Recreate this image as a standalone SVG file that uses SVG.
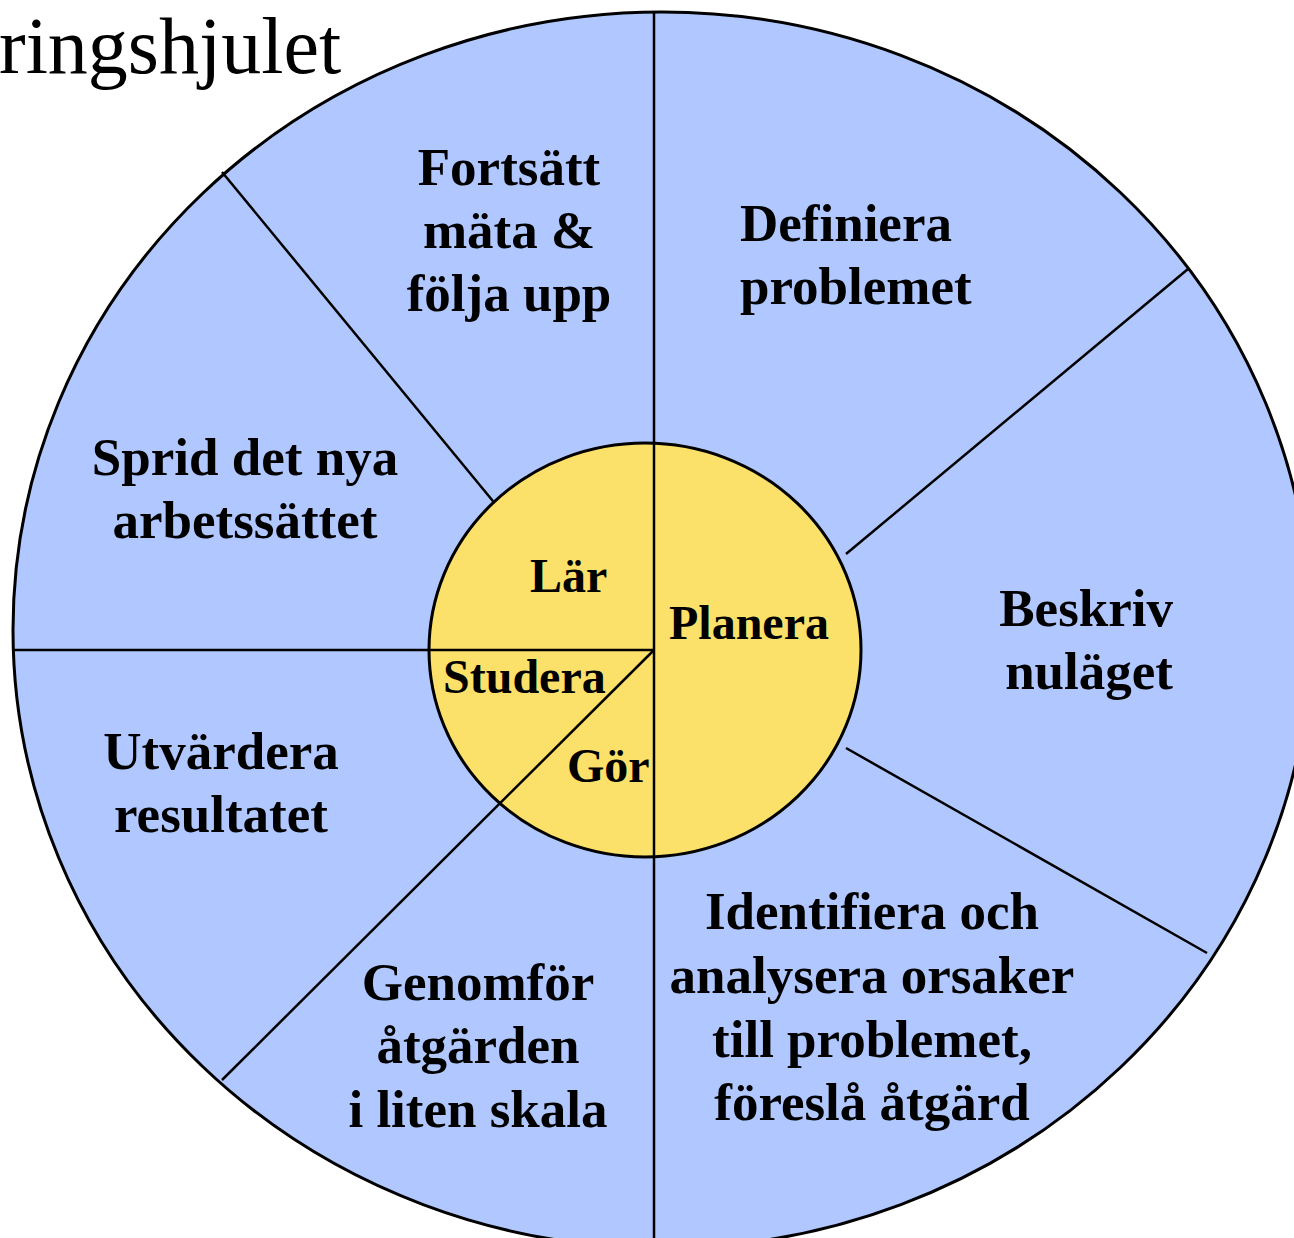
<svg xmlns="http://www.w3.org/2000/svg" width="1294" height="1238" viewBox="0 0 1294 1238">
<style>
.ln{stroke:#000;stroke-width:2.5;fill:none}
.lbl{font-family:"Liberation Serif","Times New Roman",serif;font-weight:bold;font-size:53px;fill:#000}
.in{font-family:"Liberation Serif","Times New Roman",serif;font-weight:bold;font-size:48px;fill:#000}
.c{text-anchor:middle}
</style>
<rect width="1294" height="1238" fill="#fff"/>
<text x="-1" y="73" font-family="Liberation Serif, Times New Roman, serif" font-size="80">ringshjulet</text>
<g id="wheel">
<ellipse cx="662" cy="630" rx="649" ry="618" fill="#B0C8FF" stroke="#000" stroke-width="3"/>
</g>
<g id="connectors">
<line class="ln" x1="222" y1="172" x2="497" y2="506"/>
<line class="ln" x1="1188" y1="269" x2="846" y2="554"/>
<line class="ln" x1="846" y1="748" x2="1207" y2="953"/>
</g>
<g id="hub">
<ellipse cx="645" cy="650" rx="216" ry="207" fill="#FBE16A" stroke="#000" stroke-width="3"/>
</g>
<g id="hub-lines">
<line class="ln" x1="654" y1="12" x2="654" y2="1238"/>
<line class="ln" x1="13" y1="650" x2="654" y2="650"/>
<line class="ln" x1="222" y1="1080" x2="654" y2="650"/>
</g>
<g id="n-fortsatt"><text class="lbl c" x="509"><tspan x="509" y="185">Fortsätt</tspan><tspan x="509" y="248">mäta &amp;</tspan><tspan x="509" y="311">följa upp</tspan></text></g>
<g id="n-definiera"><text class="lbl"><tspan x="740" y="241">Definiera</tspan><tspan x="740" y="304">problemet</tspan></text></g>
<g id="n-beskriv"><text class="lbl" text-anchor="end"><tspan x="1173" y="626">Beskriv</tspan><tspan x="1173" y="689">nuläget</tspan></text></g>
<g id="n-identifiera"><text class="lbl c"><tspan x="872" y="929">Identifiera och</tspan><tspan x="872" y="993">analysera orsaker</tspan><tspan x="872" y="1057">till problemet,</tspan><tspan x="872" y="1120">föreslå åtgärd</tspan></text></g>
<g id="n-genomfor"><text class="lbl c"><tspan x="478" y="1000">Genomför</tspan><tspan x="478" y="1063">åtgärden</tspan><tspan x="478" y="1127">i liten skala</tspan></text></g>
<g id="n-utvardera"><text class="lbl c"><tspan x="221" y="769">Utvärdera</tspan><tspan x="221" y="832">resultatet</tspan></text></g>
<g id="n-sprid"><text class="lbl c"><tspan x="245" y="475">Sprid det nya</tspan><tspan x="245" y="538">arbetssättet</tspan></text></g>
<g id="n-lar"><text class="in" x="530" y="592">Lär</text></g>
<g id="n-planera"><text class="in" x="669" y="639">Planera</text></g>
<g id="n-studera"><text class="in" x="443" y="693">Studera</text></g>
<g id="n-gor"><text class="in" x="567" y="782">Gör</text></g>
</svg>
